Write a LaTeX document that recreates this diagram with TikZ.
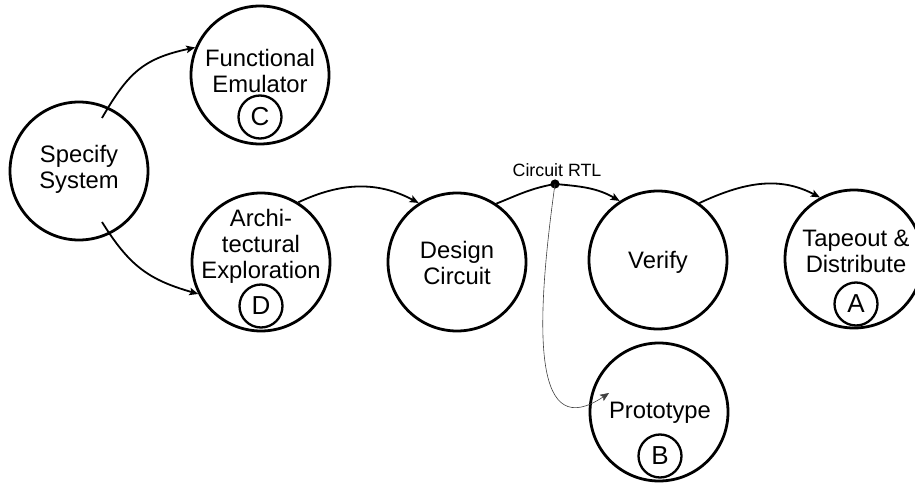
\documentclass[tikz,border=0pt]{standalone}
\usepackage{fontspec}
\setmainfont{Liberation Sans}
\usetikzlibrary{arrows.meta}
\begin{document}
\begin{tikzpicture}[x=1pt,y=1pt,
  stage/.style={circle,draw,line width=2.8pt,inner sep=0pt,minimum size=138pt},
  caption/.style={align=center,inner sep=0pt,font=\fontsize{23.8}{26}\selectfont},
  badge/.style={circle,draw,line width=2.3pt,inner sep=0pt,minimum size=43pt,
    font=\fontsize{26}{26}\selectfont},
  tip/.style={-{Stealth[length=9pt,width=7.5pt,inset=2pt]}},
  flow/.style={tip,line width=1.8pt},
  tap/.style={tip,line width=0.6pt,black!75},
  rtl/.style={font=\fontsize{17.8}{18}\selectfont,inner sep=0pt}
]
\useasboundingbox (0,0) rectangle (915,482);

% stages of the flow
\node[stage] (spec)   at (79,311)  {};
\node[stage] (func)   at (260,407) {};
\node[stage] (arch)   at (261,220) {};
\node[stage] (design) at (457,220) {};
\node[stage] (verify) at (658,222) {};
\node[stage] (tape)   at (854,223) {};
\node[stage] (proto)  at (659,70)  {};

% stage captions
\node[caption] (specT)   at (79,313)  {Specify\\System};
\node[caption] (funcT)   at (260,411) {Functional\\Emulator};
\node[caption] (archT)   at (261,236) {Archi-\\tectural\\Exploration};
\node[caption] (designT) at (457,219) {Design\\Circuit};
\node[caption] (verifyT) at (658,220) {Verify};
\node[caption] (tapeT)   at (856,231) {Tapeout \&\\Distribute};
\node[caption] (protoT)  at (660,69)  {Prototype};

% lettered markers
\node[badge] (bC) at (260,365) {C};
\node[badge] (bD) at (261,176) {D};
\node[badge] (bA) at (856,178) {A};
\node[badge] (bB) at (660,26)  {B};

% tap point carrying the circuit RTL
\coordinate (rtl) at (555,298);
\fill (rtl) circle (4.6);
\node[rtl] (rtlT) at (557,312) {Circuit RTL};

% connector end points
\coordinate (s1) at (102,364);
\coordinate (s2) at (102,260);
\coordinate (ptip) at (609,89);

% connectors
\draw[flow] (s1) to[out=60,in=192,looseness=1.15] (func.157);
\draw[flow] (s2) to[out=-58,in=164,looseness=1.1] (arch.207);
\draw[flow] (arch.58) to[out=25,in=152] (design.123);
\draw[line width=1.8pt] (design.56) to[out=22,in=190] (rtl);
\draw[flow] (rtl) to[out=-5,in=150] (verify.123);
\draw[flow] (verify.54) to[out=25,in=152] (tape.119);
\draw[tap] (rtl) .. controls (533,140) and (536,40) .. (ptip);
\end{tikzpicture}
\end{document}
